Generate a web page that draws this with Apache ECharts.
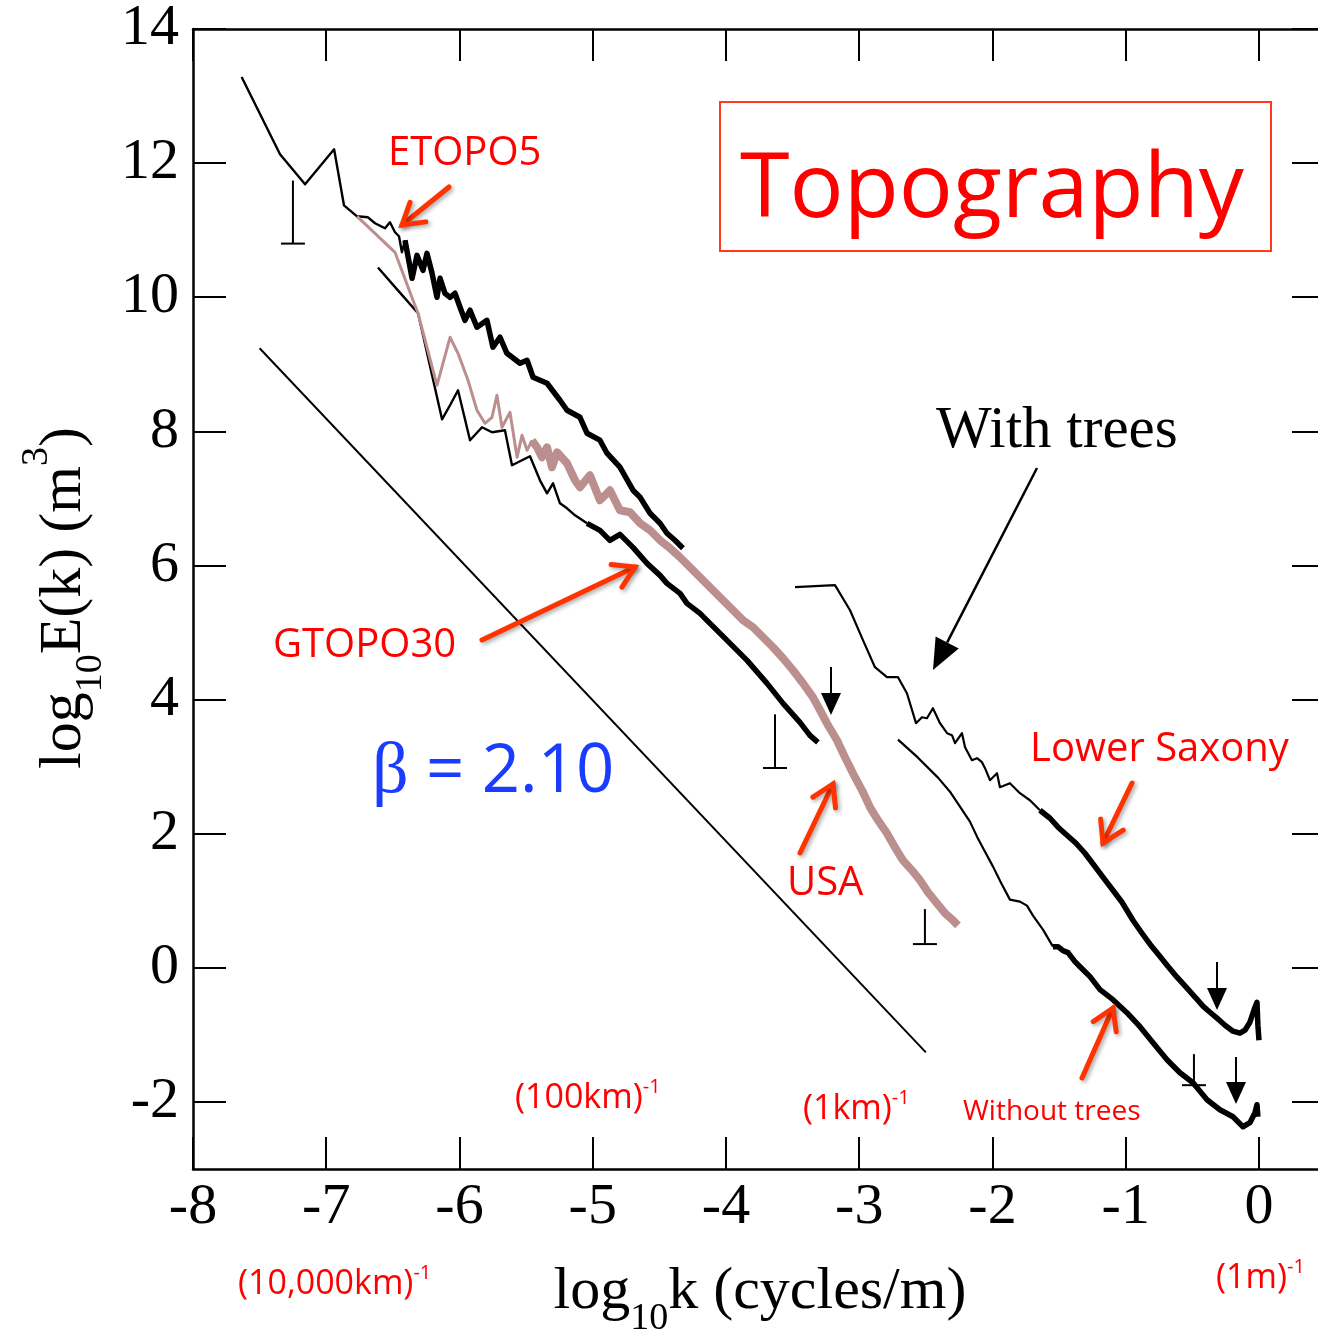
<!DOCTYPE html>
<html><head><meta charset="utf-8">
<script src="https://cdn.jsdelivr.net/npm/echarts@6/dist/echarts.min.js"></script>
<style>html,body{margin:0;padding:0;background:#fff}#c{width:1318px;height:1332px}</style>
</head><body><div id="c"></div>
<script>
// ---- tick values ----
const xTickValues = [-8,-7,-6,-5,-4,-3,-2,-1,0];
const yTickValues = [-2,0,2,4,6,8,10,12,14];

// ---- reference slope line (beta = 2.10) ----
const betaLine = [[-7.5,9.24],[-2.5,-1.26]];

// ---- ETOPO5 ----
const etopo5Coarse = [[-7.635,13.284],[-7.347,12.132],[-7.159,11.685],[-6.941,12.206],[-6.867,11.371],[-6.769,11.207],[-6.687,11.192],[-6.634,11.103],[-6.559,11.028],[-6.522,11.118],[-6.484,10.969],[-6.454,10.909],[-6.432,10.670],[-6.409,10.849]];
const etopo5Fine = [[-6.409,10.849],[-6.356,10.282],[-6.319,10.625],[-6.274,10.401],[-6.244,10.655],[-6.206,10.357],[-6.169,9.999],[-6.146,10.282],[-6.109,10.059],[-6.071,9.999],[-6.034,10.059],[-5.996,9.850],[-5.959,9.656],[-5.921,9.806],[-5.869,9.552],[-5.794,9.656],[-5.749,9.254],[-5.696,9.403],[-5.644,9.164],[-5.546,9.015],[-5.493,9.060],[-5.448,8.807],[-5.343,8.717],[-5.246,8.464],[-5.193,8.315],[-5.096,8.210],[-5.043,7.972],[-4.946,7.868],[-4.893,7.674],[-4.796,7.465],[-4.698,7.122],[-4.645,7.018],[-4.570,6.779],[-4.495,6.630],[-4.443,6.481],[-4.383,6.376],[-4.323,6.257]];

// ---- USA ----
const usaCoarse = [[-6.769,11.207],[-6.484,10.670],[-6.349,9.954],[-6.311,9.760],[-6.169,8.687],[-6.071,9.403],[-6.011,9.164],[-5.936,8.762],[-5.869,8.314],[-5.809,8.120],[-5.756,8.210],[-5.719,8.538],[-5.681,8.060],[-5.621,8.284],[-5.568,7.613],[-5.531,7.941],[-5.493,7.717],[-5.456,7.866]];
const usaFine = [[-5.456,7.866],[-5.418,7.762],[-5.381,7.613],[-5.343,7.762],[-5.306,7.464],[-5.268,7.688],[-5.193,7.524],[-5.133,7.27],[-5.096,7.166],[-5.021,7.345],[-4.946,6.972],[-4.871,7.121],[-4.796,6.823],[-4.720,6.793],[-4.645,6.630],[-4.570,6.525],[-4.495,6.376],[-4.420,6.257],[-4.345,6.122],[-4.270,5.973],[-4.195,5.824],[-4.120,5.675],[-4.045,5.526],[-3.947,5.332],[-3.872,5.183],[-3.797,5.079],[-3.722,4.929],[-3.647,4.780],[-3.572,4.616],[-3.497,4.437],[-3.422,4.243],[-3.347,4.034],[-3.294,3.841],[-3.234,3.617],[-3.167,3.393],[-3.107,3.140],[-3.047,2.901],[-2.979,2.647],[-2.919,2.394],[-2.859,2.200],[-2.792,2.006],[-2.732,1.797],[-2.672,1.603],[-2.604,1.454],[-2.544,1.305],[-2.484,1.126],[-2.417,0.962],[-2.356,0.813],[-2.296,0.708],[-2.259,0.634]];

// ---- GTOPO30 ----
const gtopoCoarse = [[-6.612,10.444],[-6.462,10.102],[-6.311,9.760],[-6.221,8.970],[-6.131,8.180],[-6.071,8.389],[-6.011,8.613],[-5.966,8.240],[-5.921,7.867],[-5.831,8.061],[-5.756,7.986],[-5.659,8.016],[-5.606,7.494],[-5.531,7.569],[-5.471,7.628],[-5.396,7.270],[-5.343,7.076],[-5.298,7.225],[-5.246,6.927],[-5.193,6.852],[-5.133,6.748],[-5.043,6.628]];
const gtopoFine = [[-5.043,6.628],[-4.946,6.524],[-4.871,6.375],[-4.796,6.464],[-4.698,6.270],[-4.593,6.031],[-4.495,5.852],[-4.443,5.733],[-4.345,5.584],[-4.293,5.435],[-4.195,5.286],[-4.143,5.181],[-3.992,4.883],[-3.842,4.585],[-3.692,4.242],[-3.572,3.944],[-3.445,3.660],[-3.370,3.467],[-3.310,3.363]];

// ---- Lower Saxony, with trees ----
const withTreesCoarse = [[-3.482,5.676],[-3.182,5.706],[-3.069,5.333],[-2.972,4.886],[-2.882,4.483],[-2.792,4.334],[-2.709,4.334],[-2.642,4.095],[-2.574,3.648],[-2.529,3.737],[-2.492,3.722],[-2.447,3.871],[-2.394,3.648],[-2.341,3.499],[-2.304,3.469],[-2.281,3.350],[-2.229,3.499],[-2.206,3.290],[-2.154,3.096],[-2.116,3.126],[-2.079,3.066],[-2.056,2.977],[-2.019,2.798],[-1.966,2.902],[-1.944,2.693],[-1.869,2.753],[-1.794,2.604],[-1.719,2.499],[-1.644,2.350]];
const withTreesFine = [[-1.644,2.350],[-1.568,2.231],[-1.508,2.097],[-1.441,1.978],[-1.373,1.858],[-1.306,1.709],[-1.238,1.530],[-1.171,1.351],[-1.096,1.157],[-1.028,0.978],[-0.946,0.710],[-0.878,0.516],[-0.818,0.352],[-0.750,0.188],[-0.690,0.039],[-0.615,-0.140],[-0.540,-0.304],[-0.473,-0.453],[-0.420,-0.572],[-0.368,-0.662],[-0.315,-0.751],[-0.255,-0.856],[-0.195,-0.945],[-0.143,-0.975],[-0.105,-0.930],[-0.068,-0.811],[-0.030,-0.587],[-0.015,-0.513],[-0.008,-0.856],[0,-1.079]];

// ---- Lower Saxony, without trees ----
const withoutTreesCoarse = [[-2.709,3.402],[-2.559,3.134],[-2.409,2.836],[-2.319,2.627],[-2.244,2.403],[-2.169,2.180],[-2.116,1.956],[-2.056,1.732],[-1.996,1.509],[-1.936,1.270],[-1.869,1.017],[-1.794,0.987],[-1.741,0.928],[-1.696,0.778],[-1.621,0.569],[-1.546,0.316]];
const withoutTreesFine = [[-1.546,0.316],[-1.508,0.316],[-1.471,0.256],[-1.433,0.226],[-1.381,0.092],[-1.343,0.017],[-1.268,-0.132],[-1.193,-0.326],[-1.096,-0.475],[-0.991,-0.669],[-0.893,-0.878],[-0.795,-1.117],[-0.690,-1.370],[-0.593,-1.564],[-0.495,-1.713],[-0.390,-1.967],[-0.293,-2.116],[-0.195,-2.221],[-0.120,-2.370],[-0.068,-2.310],[-0.030,-2.161],[-0.015,-2.042],[-0.008,-2.221]];

// ---- error bars: [x, yTop, yBottom] ----
const errorBars = [[-7.25,11.74,10.80],[-3.632,3.78,2.98],[-2.507,0.876,0.354],[-0.488,-1.287,-1.75]];

const RED = '#ff0000';
const ARROW_RED = '#ff3300';
const SERIF = 'Liberation Serif';
const SANS = 'Open Sans';

function lineSeries(name, data, color, width, z) {
  return {name, type:'line', data, showSymbol:false, symbol:'none', silent:true,
    lineStyle:{color, width, join:'round'}, z: z || 2, animation:false};
}

function redArrow(x1,y1,x2,y2){
  const a = Math.atan2(y2-y1, x2-x1), L = 24, w = 0.55;
  const p1 = [x2 - L*Math.cos(a-w), y2 - L*Math.sin(a-w)];
  const p2 = [x2 - L*Math.cos(a+w), y2 - L*Math.sin(a+w)];
  const sh = {shadowColor:'rgba(0,0,0,0.35)', shadowBlur:4, shadowOffsetX:2, shadowOffsetY:2};
  return [
    {type:'line', shape:{x1,y1,x2,y2}, style:Object.assign({stroke:ARROW_RED, lineWidth:5, lineCap:'round'}, sh), z:20},
    {type:'polyline', shape:{points:[p1,[x2,y2],p2]}, style:Object.assign({stroke:ARROW_RED, fill:null, lineWidth:5, lineCap:'round', lineJoin:'miter'}, sh), z:20}
  ];
}
function blackArrow(x1,y1,x2,y2,L,hw,lw){
  const a = Math.atan2(y2-y1, x2-x1);
  const bx = x2 - L*Math.cos(a), by = y2 - L*Math.sin(a);
  const p1 = [bx + hw*Math.sin(a), by - hw*Math.cos(a)];
  const p2 = [bx - hw*Math.sin(a), by + hw*Math.cos(a)];
  return [
    {type:'line', shape:{x1,y1,x2:bx,y2:by}, style:{stroke:'#000', lineWidth:lw}, z:20},
    {type:'polygon', shape:{points:[p1,[x2,y2],p2]}, style:{fill:'#000'}, z:20}
  ];
}
function label(text, x, y, size, color, family, extra){
  return Object.assign({type:'text', x, y, z:20, style:{text, fontSize:size, fontFamily:family||SANS, fill:color||RED, align:'left', verticalAlign:'middle'}}, extra||{});
}
function invLabel(main, x, y){
  return {type:'text', x, y, z:20, style:{
    text:'{a|'+main+'}{b|-1}', align:'left', verticalAlign:'middle',
    rich:{a:{fontSize:34, fontFamily:SANS, fill:RED, lineHeight:42, verticalAlign:'middle'},
          b:{fontSize:20, fontFamily:SANS, fill:RED, lineHeight:42, verticalAlign:'top'}}}};
}

const graphics = [].concat(
  [{type:'rect', shape:{x:720, y:102, width:551, height:149}, style:{fill:null, stroke:'#ff3b1f', lineWidth:2}, z:20}],
  [label('Topography', 740, 191, 90)],
  [label('ETOPO5', 388, 154, 40)],
  [label('GTOPO30', 273, 646, 40)],
  [label('USA', 787, 884, 40)],
  [label('Lower Saxony', 1030, 750, 40)],
  [label('Without trees', 963, 1112, 28)],
  [label('With trees', 936, 431, 59, '#000', SERIF)],
  [{type:'text', x:372, y:773, z:20, style:{text:'{g|β}{n| = 2.10}', align:'left', verticalAlign:'middle',
     rich:{g:{fontSize:72, fontFamily:SERIF, fill:'#1a3cff'}, n:{fontSize:67, fontFamily:SANS, fill:'#1a3cff'}}}}],
  [invLabel('(100km)', 515, 1098), invLabel('(1km)', 803, 1109), invLabel('(10,000km)', 238, 1284), invLabel('(1m)', 1216, 1278)],
  redArrow(449,187,402,225),
  redArrow(482,640,635,567),
  redArrow(800,853,833,784),
  redArrow(1132,783,1103,843),
  redArrow(1082,1078,1113,1008),
  blackArrow(1037,468,933,670,31,13,2.5),
  blackArrow(831,667,831,715,22,10,2),
  blackArrow(1217,962,1217,1010,22,10,2),
  blackArrow(1236,1057,1236,1104,22,10,2),
  [{type:'text', x:760, y:1292, z:20, style:{
     text:'{a|log}{s|10}{a|k (cycles/m)}', align:'center', verticalAlign:'middle',
     rich:{a:{fontSize:60, fontFamily:SERIF, fill:'#000', lineHeight:92, verticalAlign:'middle'},
           s:{fontSize:38, fontFamily:SERIF, fill:'#000', lineHeight:92, verticalAlign:'bottom'}}}}],
  [{type:'text', x:64, y:598, rotation:Math.PI/2, z:20, style:{
     text:'{a|log}{s|10}{a|E(k) (m}{p|3}{a|)}', align:'center', verticalAlign:'middle',
     rich:{a:{fontSize:60, fontFamily:SERIF, fill:'#000', lineHeight:92, verticalAlign:'middle'},
           s:{fontSize:38, fontFamily:SERIF, fill:'#000', lineHeight:92, verticalAlign:'bottom'},
           p:{fontSize:38, fontFamily:SERIF, fill:'#000', lineHeight:92, verticalAlign:'top'}}}}]
);

const XMAX = 0.443;
function xAx(pos, labels){
  return {type:'value', min:-8, max:XMAX, position:pos,
    axisLine:{show:true, onZero:false, lineStyle:{color:'#000', width:2.5}},
    axisTick:{show:true, inside:true, length:32, customValues:xTickValues, lineStyle:{color:'#000', width:2}},
    axisLabel:{show:labels, customValues:xTickValues, fontFamily:SERIF, fontSize:58, color:'#000', margin:10},
    splitLine:{show:false}};
}
function yAx(pos, labels){
  return {type:'value', min:-3, max:14, position:pos,
    axisLine:{show:labels, onZero:false, lineStyle:{color:'#000', width:2.5}},
    axisTick:{show:true, inside:true, length:labels ? 33 : 26, customValues:yTickValues, lineStyle:{color:'#000', width:2}},
    axisLabel:{show:labels, customValues:yTickValues, fontFamily:SERIF, fontSize:58, color:'#000', margin:14},
    splitLine:{show:false}};
}

const chart = echarts.init(document.getElementById('c'), null, {renderer:'canvas'});
chart.setOption({
  animation:false,
  backgroundColor:'#fff',
  grid:{left:193, top:29, width:1125, height:1140, show:false},
  xAxis:[xAx('bottom', true), xAx('top', false)],
  yAxis:[yAx('left', true), yAx('right', false)],
  series:[
    {type:'custom', name:'errorBars', data:errorBars, silent:true, z:1,
      renderItem:(params, api)=>{
        const t = api.coord([api.value(0), api.value(1)]);
        const b = api.coord([api.value(0), api.value(2)]);
        return {type:'group', children:[
          {type:'line', shape:{x1:t[0], y1:t[1], x2:b[0], y2:b[1]}, style:{stroke:'#000', lineWidth:2}},
          {type:'line', shape:{x1:b[0]-12, y1:b[1], x2:b[0]+12, y2:b[1]}, style:{stroke:'#000', lineWidth:2}}
        ]};
      }},
    lineSeries('beta', betaLine, '#000', 2),
    lineSeries('ETOPO5', etopo5Coarse, '#000', 2.4),
    lineSeries('ETOPO5 fine', etopo5Fine, '#000', 5.5),
    lineSeries('GTOPO30', gtopoCoarse, '#000', 2.4),
    lineSeries('GTOPO30 fine', gtopoFine, '#000', 5.5),
    lineSeries('USA', usaCoarse, '#bc8f8f', 3, 3),
    lineSeries('USA fine', usaFine, '#bc8f8f', 8, 3),
    lineSeries('With trees', withTreesCoarse, '#000', 2.2),
    lineSeries('With trees fine', withTreesFine, '#000', 5.5),
    lineSeries('Without trees', withoutTreesCoarse, '#000', 2.2),
    lineSeries('Without trees fine', withoutTreesFine, '#000', 5.5)
  ],
  graphic: graphics
});
</script>
</body></html>
